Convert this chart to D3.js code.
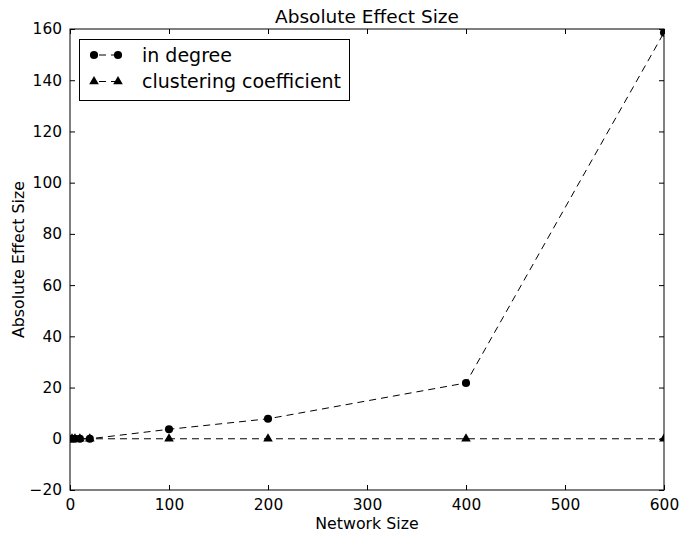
<!DOCTYPE html>
<html>
<meta charset="utf-8">
<style>
    body { margin: 0; background: #fff; }
    svg, svg text { font-family: "DejaVu Sans", sans-serif; }
    .axis path, .axis line { fill: none; stroke: #000; }
</style>
<body>
<script src="https://d3js.org/d3.v7.min.js"></script>
<script>

    var networkSize = [2, 5, 10, 20, 100, 200, 400, 600];
    var inDegree = [0, 0, 0, 0, 3.7, 7.8, 21.8, 158.6];
    var clustering = [0, 0, 0, 0, 0, 0, 0, 0];
    var xTicks = [0, 100, 200, 300, 400, 500, 600];
    var yTicks = [-20, 0, 20, 40, 60, 80, 100, 120, 140, 160];

    var margin = {top: 29, right: 15, bottom: 43, left: 70},
        width = 679 - margin.left - margin.right,
        height = 533 - margin.top - margin.bottom;

    var x = d3.scaleLinear().domain([0, 600]).range([0, width]);
    var y = d3.scaleLinear().domain([-20, 160]).range([height, 0]);

    var svg = d3.select("body").append("svg")
        .attr("width", 679).attr("height", 533);
    var g = svg.append("g")
        .attr("transform", "translate(" + margin.left + "," + margin.top + ")");

    svg.append("defs").append("clipPath").attr("id", "plot")
        .append("rect").attr("width", width).attr("height", height);

    // axes with inward ticks on all sides
    g.append("g").attr("class", "axis")
        .attr("transform", "translate(0," + height + ")")
        .call(d3.axisBottom(x).tickValues(xTicks).tickSizeInner(-5).tickSizeOuter(0).tickPadding(9));
    g.append("g").attr("class", "axis")
        .call(d3.axisTop(x).tickValues(xTicks).tickSizeInner(-5).tickSizeOuter(0).tickFormat(""));
    g.append("g").attr("class", "axis")
        .call(d3.axisLeft(y).tickValues(yTicks).tickSizeInner(-5).tickSizeOuter(0).tickPadding(8)
            .tickFormat(function(d) { return d < 0 ? "\u2212" + Math.abs(d) : d; }));
    g.append("g").attr("class", "axis")
        .attr("transform", "translate(" + width + ",0)")
        .call(d3.axisRight(y).tickValues(yTicks).tickSizeInner(-5).tickSizeOuter(0).tickFormat(""));
    g.selectAll(".axis path").remove();
    g.selectAll(".axis").attr("font-family", null).attr("font-size", null);
    g.selectAll(".axis text").style("font-size", "15.4px").attr("fill", "#000");

    var line = d3.line()
        .x(function(d) { return x(d[0]); })
        .y(function(d) { return y(d[1]); });

    var series = [
        {name: "in degree", vals: inDegree, sym: d3.symbolCircle},
        {name: "clustering coefficient", vals: clustering, sym: d3.symbolTriangle}
    ];

    var plot = g.append("g").attr("clip-path", "url(#plot)");
    series.forEach(function(s) {
        var pts = networkSize.map(function(v, i) { return [v, s.vals[i]]; });
        plot.append("path").datum(pts)
            .attr("d", line)
            .attr("fill", "none").attr("stroke", "#000")
            .attr("stroke-width", 1).attr("stroke-dasharray", "7,5");
        plot.selectAll(null).data(pts).enter().append("path")
            .attr("d", d3.symbol().type(s.sym).size(s.sym === d3.symbolCircle ? 52 : 40))
            .attr("transform", function(d) { return "translate(" + x(d[0]) + "," + y(d[1]) + ")"; })
            .attr("fill", "#000");
    });

    g.append("rect")
        .attr("width", width).attr("height", height)
        .attr("fill", "none").attr("stroke", "#000").attr("stroke-width", 1);

    // legend
    var lg = svg.append("g");
    lg.append("rect")
        .attr("x", 79.5).attr("y", 39.5).attr("width", 270).attr("height", 61)
        .attr("fill", "#fff").attr("stroke", "#000");
    series.forEach(function(s, i) {
        var ly = 55 + i * 26.5;
        lg.append("line")
            .attr("x1", 94).attr("x2", 118).attr("y1", ly).attr("y2", ly)
            .attr("stroke", "#000").attr("stroke-dasharray", "7,5").attr("stroke-dashoffset", -5);
        [94, 118].forEach(function(cx) {
            lg.append("path")
                .attr("d", d3.symbol().type(s.sym).size(s.sym === d3.symbolCircle ? 52 : 40))
                .attr("transform", "translate(" + cx + "," + ly + ")")
                .attr("fill", "#000");
        });
        lg.append("text")
            .attr("x", 142).attr("y", ly).attr("dy", "0.36em")
            .style("font-size", "19px")
            .text(s.name);
    });

    svg.append("text")
        .attr("x", margin.left + width / 2).attr("y", 23)
        .attr("text-anchor", "middle").style("font-size", "18.5px")
        .text("Absolute Effect Size");

    svg.append("text")
        .attr("x", margin.left + width / 2).attr("y", 529)
        .attr("text-anchor", "middle").style("font-size", "15.8px")
        .text("Network Size");

    svg.append("text")
        .attr("transform", "translate(24," + (margin.top + height / 2) + ") rotate(-90)")
        .attr("text-anchor", "middle").style("font-size", "15.8px")
        .text("Absolute Effect Size");

</script>
</body>
</html>
